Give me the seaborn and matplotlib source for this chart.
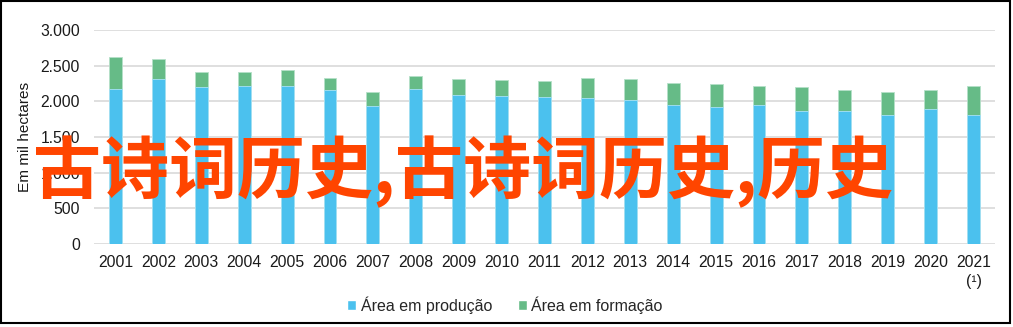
import numpy as np
import pandas as pd
import matplotlib
matplotlib.use("Agg")
import matplotlib.pyplot as plt
import seaborn as sns
from matplotlib.ticker import FuncFormatter
from matplotlib.patches import Rectangle, Patch

years = ["2001", "2002", "2003", "2004", "2005", "2006", "2007", "2008", "2009", "2010",
         "2011", "2012", "2013", "2014", "2015", "2016", "2017", "2018", "2019", "2020", "2021"]
year_labels = years[:-1] + ["2021\n(¹)"]
producao = [2177, 2309, 2197, 2211, 2220, 2155, 1935, 2168, 2089, 2079,
            2056, 2051, 2014, 1944, 1916, 1944, 1860, 1860, 1808, 1888, 1804]
total = [2617, 2594, 2407, 2416, 2435, 2323, 2127, 2360, 2313, 2295,
         2281, 2327, 2309, 2257, 2248, 2220, 2206, 2159, 2131, 2159, 2215]
formacao = [t - p for t, p in zip(total, producao)]

blue = "#4BC1EE"
green = "#66BB87"

sns.set_theme(style="white")
plt.rcParams["font.family"] = ["Liberation Sans", "DejaVu Sans"]

df = pd.DataFrame({"ano": years, "producao": producao, "formacao": formacao})
df["total"] = df["producao"] + df["formacao"]

W, H = 1013, 327
fig = plt.figure(figsize=(W / 100, H / 100), dpi=100)
ax = fig.add_axes([94 / W, 1 - 244 / H, (995 - 94) / W, (244 - 30) / H])

sns.barplot(data=df, x="ano", y="total", color=green, width=0.3, ax=ax,
            saturation=1, edgecolor="#B5E0C8", linewidth=0.6, zorder=2)
sns.barplot(data=df, x="ano", y="producao", color=blue, width=0.3, ax=ax,
            saturation=1, edgecolor="#A8E2F6", linewidth=0.6, zorder=3)

ax.set_ylim(0, 3000)
ax.set_xlim(-0.5, len(years) - 0.5)
ax.set_yticks(np.arange(0, 3001, 500))
ax.yaxis.set_major_formatter(FuncFormatter(lambda v, p: f"{v:,.0f}".replace(",", ".")))
ax.set_xticks(range(len(years)))
ax.set_xticklabels(year_labels, fontsize=11.3, color="#1a1a1a", linespacing=1.35)
ax.tick_params(axis="y", labelsize=11.3, labelcolor="#1a1a1a", length=0, pad=10)
ax.tick_params(axis="x", length=0, pad=8)
ax.grid(axis="y", color="#D9D9D9", linewidth=1.2, zorder=0)
ax.set_axisbelow(True)
for s in ax.spines.values():
    s.set_visible(False)
ax.set_xlabel("")
ax.set_ylabel("Em mil hectares", fontsize=11.1, color="#1a1a1a", labelpad=6)
ax.yaxis.set_label_coords(-62 / (995 - 94), 0.5)

handles = [Patch(facecolor=blue, label="Área em produção"),
           Patch(facecolor=green, label="Área em formação")]
fig.legend(handles=handles, loc="center", bbox_to_anchor=(505 / W, 1 - 305 / H),
           ncol=2, frameon=False, fontsize=11.5, handlelength=0.55, handleheight=0.55,
           handletextpad=0.3, columnspacing=1.6)

fig.text(33 / W, 1 - 172 / H, "古诗词历史,古诗词历史,历史", color="#FF4500",
         fontsize=49, fontweight="bold", ha="left", va="center",
         family=["Noto Sans CJK SC", "DejaVu Sans"], zorder=10)

fig.patches.append(Rectangle((1 / W, 1 - 323 / H), 1009 / W, 322 / H, transform=fig.transFigure,
                             fill=False, edgecolor="black", linewidth=1.5))

fig.savefig("out.png", dpi=100)
